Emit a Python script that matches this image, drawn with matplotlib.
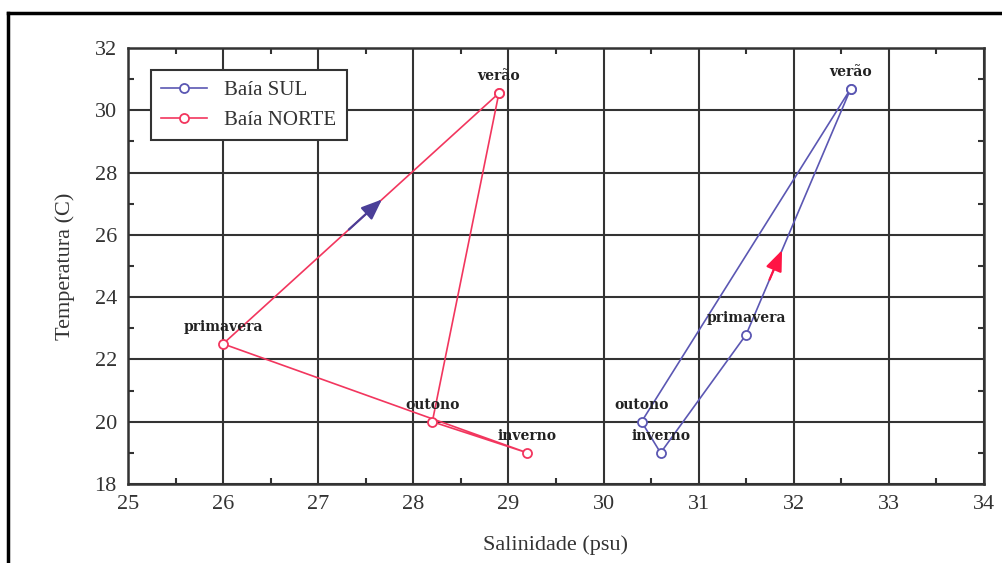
import matplotlib.pyplot as plt
import numpy as np
from matplotlib.lines import Line2D

# seasonal T-S cycle, order: verao -> outono -> inverno -> primavera -> verao
estacoes = ['verão', 'outono', 'inverno', 'primavera']
sal_sul = [32.6, 30.4, 30.6, 31.5]
temp_sul = [30.7, 20.0, 19.0, 22.8]
sal_norte = [28.9, 28.2, 29.2, 26.0]
temp_norte = [30.55, 20.0, 19.0, 22.5]

cor_sul = '#5b57b3'
cor_norte = '#f2365e'

fig = plt.figure(figsize=[10.02, 5.63], dpi=100)
ax = fig.add_axes([0.1277, 0.1403, 0.8543, 0.7744])

serif = ['Liberation Serif', 'DejaVu Serif']
rot = ['DejaVu Serif']

def ciclo(v):
    return list(v) + [v[0]]

ax.plot(ciclo(sal_sul), ciclo(temp_sul), '-', color=cor_sul, lw=1.2,
        marker='o', ms=6.5, mfc='white', mec=cor_sul, mew=1.3, label='Baía SUL', zorder=4)
ax.plot(ciclo(sal_norte), ciclo(temp_norte), '-', color=cor_norte, lw=1.2,
        marker='o', ms=6.5, mfc='white', mec=cor_norte, mew=1.3, label='Baía NORTE', zorder=4)

# labels above each point
for s, t, nome in zip(sal_sul, temp_sul, estacoes):
    ax.annotate(nome, (s, t), xytext=(0, 7), textcoords='offset points',
                ha='center', va='bottom', fontsize=10, family=rot, color='#222222',
                fontweight='semibold', zorder=5)
for s, t, nome in zip(sal_norte, temp_norte, estacoes):
    ax.annotate(nome, (s, t), xytext=(0, 7), textcoords='offset points',
                ha='center', va='bottom', fontsize=10, family=rot, color='#222222',
                fontweight='semibold', zorder=5)

# direction arrows on the primavera -> verao leg
def seta(sal, temp, f, cor):
    p0 = np.array([sal[3], temp[3]])
    p1 = np.array([sal[0], temp[0]])
    tip = p0 + f * (p1 - p0)
    tail = p0 + (f - 0.12) * (p1 - p0)
    ax.annotate('', xy=tip, xytext=tail,
                arrowprops=dict(arrowstyle='-|>,head_length=0.9,head_width=0.36',
                                mutation_scale=14, color=cor, lw=1.6,
                                shrinkA=0, shrinkB=0), zorder=6)

seta(sal_norte, temp_norte, 0.576, '#4a3f98')
seta(sal_sul, temp_sul, 0.343, '#ff1444')

ax.set_xlim(25, 34)
ax.set_ylim(18, 32)
ax.set_xticks(np.arange(25, 35, 1))
ax.set_yticks(np.arange(18, 33, 2))
ax.set_xticks(np.arange(25.5, 34, 1), minor=True)
ax.set_yticks(np.arange(19, 32, 2), minor=True)
ax.grid(True, which='major', color='#333333', lw=1.5)
ax.set_axisbelow(True)
ax.tick_params(which='both', direction='in', top=True, right=True, colors='#333333')
ax.tick_params(which='major', length=0, pad=8, labelsize=16)
ax.tick_params(which='minor', length=4, width=1.5)
for sp in ax.spines.values():
    sp.set_color('#333333')
    sp.set_linewidth(1.8)
for lab in ax.get_xticklabels() + ax.get_yticklabels():
    lab.set_family(serif)

ax.set_xlabel('Salinidade (psu)', fontsize=16, family=serif, color='#333333', labelpad=15)
ax.set_ylabel('Temperatura (C)', fontsize=16, family=serif, color='#333333', labelpad=14)

leg = ax.legend(loc='upper left', bbox_to_anchor=(0.027, 0.95), borderaxespad=0,
                prop={'family': serif, 'size': 15}, fancybox=False, framealpha=1,
                edgecolor='#333333', handlelength=2.2, borderpad=0.5, labelspacing=0.5)
leg.get_frame().set_linewidth(1.5)
for t in leg.get_texts():
    t.set_color('#333333')

# page frame
fig.add_artist(Line2D([0.008, 1.0], [0.977, 0.977], color='black', lw=2.5, transform=fig.transFigure))
fig.add_artist(Line2D([0.008, 0.008], [0.0, 0.977], color='black', lw=2.5, transform=fig.transFigure))

fig.savefig('out.png', dpi=100)
plt.close(fig)
